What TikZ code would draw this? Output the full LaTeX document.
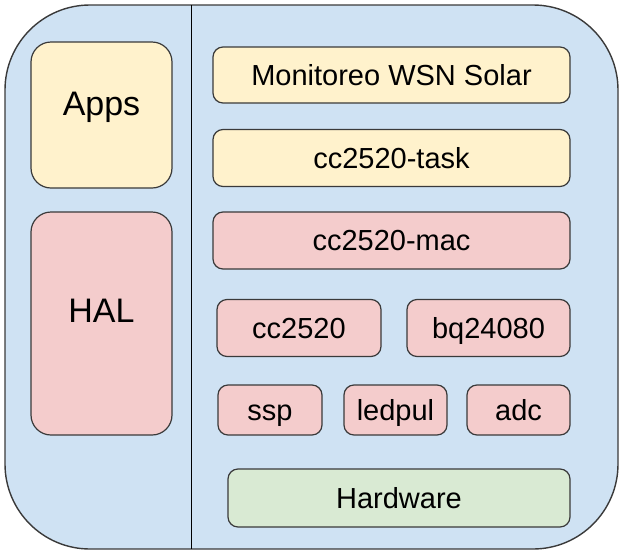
\documentclass[tikz,border=0pt]{standalone}
\usepackage{fontspec}
\setmainfont{Liberation Sans}
\definecolor{bgblue}{HTML}{CFE2F3}
\definecolor{ylw}{HTML}{FFF2CC}
\definecolor{pnk}{HTML}{F4CCCC}
\definecolor{grn}{HTML}{D9EAD3}
\definecolor{edge}{HTML}{3A3A3A}
\begin{document}
\begin{tikzpicture}[x=1pt,y=-1pt,
  box/.style={draw=edge, line width=1.2pt, rounded corners=10pt, inner sep=0pt,
    font=\fontsize{29}{31}\selectfont, text height=20.8pt, text depth=0pt},
  bigbox/.style={draw=edge, line width=1.2pt, rounded corners=20pt, inner sep=0pt},
  bigtext/.style={font=\fontsize{34}{36}\selectfont, text height=24.3pt, text depth=0pt, inner sep=0pt}]
\useasboundingbox (0,0) rectangle (624,555);
\draw[draw=edge, line width=1.4pt, fill=bgblue, rounded corners=85pt] (5,5) rectangle (618,549);
\coordinate (vt) at (191,5);
\coordinate (vb) at (191,549);
\draw[line width=1pt, black] (vt) -- (vb);
% left column
\node[bigbox, fill=ylw, minimum width=141pt, minimum height=146pt] (apps) at (101.5,115) {};
\node[bigtext] (appst) at ([yshift=12pt]apps.center) {Apps};
\node[bigbox, fill=pnk, minimum width=141pt, minimum height=223pt] (hal) at (101.5,323.5) {};
\node[bigtext] (halt) at ([yshift=13pt]hal.center) {HAL};
% right column
\node[box, fill=ylw, minimum width=357pt, minimum height=56pt] (mon) at (391.5,75) {Monitoreo WSN Solar};
\node[box, fill=ylw, minimum width=357pt, minimum height=57pt] (task) at (391.5,158) {cc2520-task};
\node[box, fill=pnk, minimum width=357pt, minimum height=57pt] (mac) at (391.5,240.5) {cc2520-mac};
\node[box, fill=pnk, minimum width=164pt, minimum height=57pt] (cc) at (299,328) {cc2520};
\node[box, fill=pnk, minimum width=163pt, minimum height=57pt] (bq) at (488.5,328) {bq24080};
\node[box, fill=pnk, minimum width=104pt, minimum height=50pt] (ssp) at (270,410) {ssp};
\node[box, fill=pnk, minimum width=103pt, minimum height=50pt] (led) at (395.5,410) {ledpul};
\node[box, fill=pnk, minimum width=103pt, minimum height=50pt] (adc) at (518.5,410) {adc};
\node[box, fill=grn, minimum width=342pt, minimum height=58pt] (hw) at (399,498) {Hardware};
\end{tikzpicture}
\end{document}
